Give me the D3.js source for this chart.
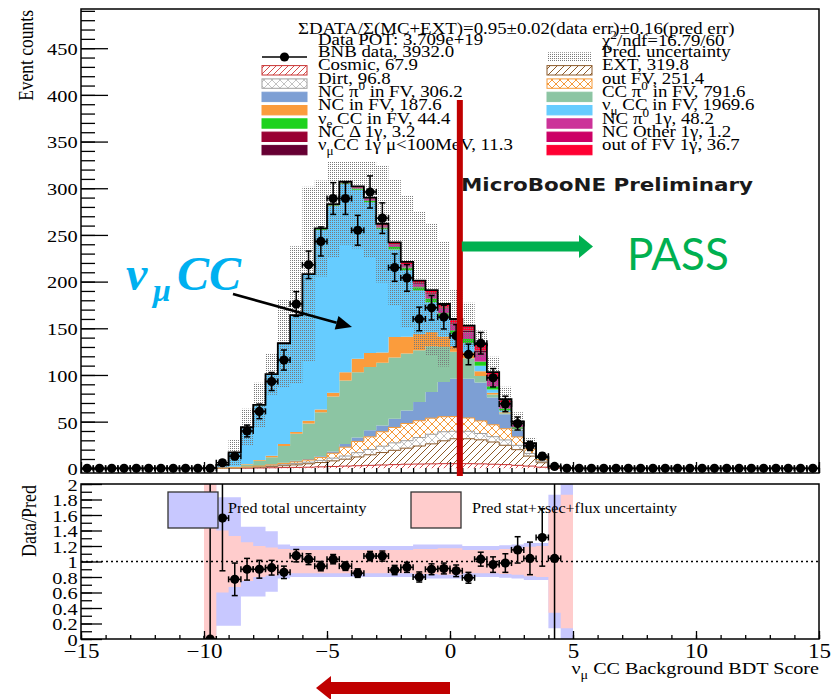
<!DOCTYPE html>
<html>
<head>
<meta charset="utf-8">
<script src="https://cdn.jsdelivr.net/npm/d3@7"></script>
<style>
body { margin: 0; background: #fff; }
svg { display: block; font-family: "Liberation Serif", "Times New Roman", serif; }
</style>
</head>
<body>
<script>
// binning of the BDT score histogram
const xMin = -15, xMax = 15, binW = 0.5, nBins = 60;
const mcStart = -10; // first bin of the MC arrays below (30 bins, -10 .. 5)

// BNB data, all 60 bins
const dataCounts = [
  0,0,0,0,0,0,0,0,0,0,
  0,6,13,40,61,93,116,176,218,243,289,289,255,296,268,215,204,160,172,162,
  142,122,134,97,69,48,24,13,2,0,
  0,0,0,0,0,0,0,0,0,0,0,0,0,0,0,0,0,0,0,0
];

// stacked MC + EXT components, bins -10 .. 5
const cosmic   = [0,0,0,0.2,0.4,0.6,0.8,1,1.2,1.6,2,2.4,2.8,3.2,3.6,4,4.4,4.6,4.8,5,5,5,4.8,4.4,4,3.2,2.4,1.2,0.2,0];
const ext      = [0,0.1,0.33,0.55,0.9,1.3,2,2.7,3.7,4.6,6,7.4,9.4,11.3,13.3,15.3,17.2,19.3,21.4,24.5,26.7,26.7,25.7,23.8,20.7,16.8,10.7,4.8,0.76,0.1];
const dirt     = [0,0,0.11,0.34,0.57,0.8,1.1,1.5,1.7,2.3,2.9,3.4,4.6,5.7,6.8,8,8,9.1,10.3,9.7,8,8,6.8,5.7,5.7,4.6,2.9,1.1,0.2,0];
const outFV    = [0,0.08,0.15,0.3,0.53,0.98,1.35,1.65,2.25,3,5.25,9.45,12,13.5,15.5,16.5,18.45,18,17.25,16.1,15.75,14.25,13.5,12.75,12,9,4.9,2.25,0.38,0.08];
const ncPi0    = [0,0,0.11,0.21,0.2,0.32,0.75,1.15,1.15,1.5,1.85,3.35,4.2,7,6.8,9.2,14,20,28,37.2,40.5,42,41.2,29.3,15.6,6.4,1.6,0.85,0.26,0.12];
const ccPi0    = [0,0.2,0.8,2.4,5.4,8,18,29,38,47,59,68,70,67.8,67,65.6,61,55.4,48.9,37.5,29,22,7,3,1,1,0.5,0.2,0.05,0];
const ncFV     = [0,0.1,0.3,0.6,1,1.5,2,2,3,3,4,9,14.5,15.1,11,22.1,18,17.6,15.3,11,6,6,5,2,1,0.5,0.2,0.1,0.05,0];
const numuCC   = [0.5,3.3,15.2,39.4,58.7,87.1,107.4,124.2,156,192.6,200,201.5,181,161.4,132,93.8,71,46.5,32,21,13,10,6,3.5,2,1,0.6,0.3,0.05,0];
const nueCC    = [0,0,0,0,0.2,0.3,0.4,0.5,0.6,0.7,0.8,0.9,1.2,1.5,2,2.5,3,3.5,4,4,4,4.5,4.5,3.5,2,1.5,0.6,0.3,0.05,0];
const ncPi01g  = [0,0,0,0,0.05,0.05,0.1,0.15,0.2,0.3,0.6,0.8,1.1,1.7,1.9,2.4,2.9,3.4,4.3,4.8,5.8,7,8.9,7.2,4.8,2.9,1.2,0.4,0,0];
const ncDelta1g= [0,0,0,0,0,0,0,0,0,0,0,0.05,0.05,0.1,0.1,0.15,0.2,0.2,0.25,0.3,0.35,0.4,0.5,0.4,0.3,0.15,0.1,0.05,0,0];
const ncOther1g= [0,0,0,0,0,0,0,0,0,0,0,0,0,0.05,0.05,0.05,0.05,0.1,0.1,0.1,0.1,0.15,0.15,0.15,0.1,0.05,0,0,0,0];
const numuCC1g = [0,0,0,0,0,0,0,0.05,0.05,0.1,0.15,0.2,0.25,0.4,0.45,0.55,0.65,0.75,1,1.1,1.3,1.6,2,1.6,1.1,0.65,0.3,0.1,0,0];
const outFV1g  = [0,0,0,0,0.05,0.05,0.1,0.1,0.15,0.3,0.45,0.55,0.9,1.25,1.5,1.85,2.2,2.55,3.35,3.7,4.45,5.35,6.95,5.65,3.7,2.25,1,0.35,0,0];

// relative prediction uncertainty (grey band in the top pad)
const predRelErr = [1,1,0.85,0.45,0.35,0.22,0.35,0.45,0.45,0.2,0.2,0.22,0.22,0.22,0.24,0.28,0.32,0.37,0.37,0.38,0.2,0.16,0.11,0.16,0.18,0.2,0.22,0.3,0.8,1];

// ratio pad, bins -10 .. 5
const ratioVals = [0,1.56,0.77,0.90,0.90,0.92,0.86,1.075,1.03,0.94,1.03,0.94,0.85,1.07,1.07,0.89,0.925,0.80,0.90,0.91,0.88,0.79,1.03,0.96,0.98,1.15,1.04,1.31,1.04,null];
const ratioErr  = [5,0.68,0.21,0.14,0.115,0.095,0.08,0.08,0.07,0.06,0.06,0.055,0.055,0.06,0.065,0.06,0.065,0.065,0.07,0.07,0.075,0.07,0.09,0.1,0.12,0.17,0.21,0.37,5,null];
const bandTotal = [1.5,0.83,0.83,0.45,0.45,0.39,0.22,0.2,0.2,0.2,0.2,0.2,0.2,0.2,0.2,0.2,0.2,0.22,0.22,0.22,0.22,0.2,0.2,0.2,0.21,0.22,0.24,0.24,0.86,1.2];
const bandStat  = [1.2,0.4,0.33,0.25,0.2,0.18,0.16,0.15,0.15,0.15,0.15,0.15,0.15,0.15,0.15,0.15,0.15,0.16,0.16,0.17,0.17,0.15,0.15,0.15,0.16,0.17,0.19,0.2,0.66,0.86];

// legend text
const headerLine = "ΣDATA/Σ(MC+EXT)=0.95±0.02(data err)±0.16(pred err)";
const potLine = "Data POT: 3.709e+19";
const chi2Line = "χ^{2}/ndf=16.79/60";
const legendLeft = ["BNB data, 3932.0","Cosmic, 67.9","Dirt, 96.8","NC π^{0} in FV, 306.2","NC in FV, 187.6","ν_{e} CC in FV, 44.4","NC Δ 1γ, 3.2","ν_{μ}CC 1γ μ<100MeV, 11.3"];
const legendRight = ["Pred. uncertainty","EXT, 319.8","out FV, 251.4","CC π^{0} in FV, 791.6","ν_{μ} CC in FV, 1969.6","NC π^{0} 1γ, 48.2","NC Other 1γ, 1.2","out of FV 1γ, 36.7"];
const bdtCut = 0.4;

const comps = {cosmic, ext, dirt, outFV, ncPi0, ccPi0, ncFV, numuCC, nueCC, ncPi01g, ncDelta1g, ncOther1g, numuCC1g, outFV1g};
const compKeys = Object.keys(comps);
const legendLeftKeys = ["data","cosmic","dirt","ncPi0","ncFV","nueCC","ncDelta1g","numuCC1g"];
const legendRightKeys = ["band","ext","outFV","ccPi0","numuCC","ncPi01g","ncOther1g","outFV1g"];

const fills = {
  cosmic: "url(#hCosmic)", ext: "url(#hExt)", dirt: "url(#hDirt)", outFV: "url(#hOutFV)",
  ncPi0: "#7d9fd4", ccPi0: "#8cc5a3", ncFV: "#fb9c3c", numuCC: "#66ccff", nueCC: "#1ed21e",
  ncPi01g: "#cc3399", ncDelta1g: "#990033", ncOther1g: "#cc0066", numuCC1g: "#660033", outFV1g: "#ff0033",
  band: "url(#dots)"
};
const edgeCol = {cosmic: "#c83232", ext: "#8c5a2a", dirt: "#a0a0a0", outFV: "#f59a3a"};

const W = 833, H = 699, SX = 1.15;
const svg = d3.select("body").append("svg").attr("width", W).attr("height", H);
const defs = svg.append("defs");

function hatch(id, color, size, sw, cross) {
  const p = defs.append("pattern").attr("id", id).attr("patternUnits", "userSpaceOnUse")
    .attr("width", size).attr("height", size);
  p.append("rect").attr("width", size).attr("height", size).attr("fill", "#fff");
  const s = size;
  p.append("path").attr("d", `M0,${s} L${s},0 M-1,1 L1,-1 M${s-1},${s+1} L${s+1},${s-1}`)
    .attr("stroke", color).attr("stroke-width", sw);
  if (cross) p.append("path").attr("d", `M0,0 L${s},${s} M-1,${s-1} L1,${s+1} M${s-1},-1 L${s+1},1`)
    .attr("stroke", color).attr("stroke-width", sw);
}
hatch("hCosmic", "#d03838", 6, 0.9, false);
hatch("hExt", "#8c5a2a", 7, 1, false);
hatch("hDirt", "#b4b4b4", 8, 0.8, true);
hatch("hOutFV", "#f59a3a", 8, 1, true);
const dp = defs.append("pattern").attr("id", "dots").attr("patternUnits", "userSpaceOnUse").attr("width", 2).attr("height", 2);
dp.append("rect").attr("x", 0).attr("y", 0).attr("width", 1).attr("height", 1).attr("fill", "#7a7a7a");

defs.append("clipPath").attr("id", "clipTop").append("rect").attr("x", 81).attr("y", 9).attr("width", 738).attr("height", 464);
defs.append("clipPath").attr("id", "clipRat").append("rect").attr("x", 81).attr("y", 484).attr("width", 738).attr("height", 155);

const x = d3.scaleLinear().domain([xMin, xMax]).range([81, 819]);
const yTop = d3.scaleLinear().domain([-5, 492]).range([473, 9]);
const yRat = d3.scaleLinear().domain([0, 2]).range([639, 484]);

// text with _{} and ^{} handling
function rich(sel, str, fs) {
  const parts = str.split(/([_^]\{[^}]*\})/).filter(s => s.length);
  let off = 0;
  parts.forEach(p => {
    let d = 0, size = fs, t = p;
    if (p[0] === "_") { d = 0.28 * fs; size = 0.7 * fs; t = p.slice(2, -1); }
    else if (p[0] === "^") { d = -0.4 * fs; size = 0.7 * fs; t = p.slice(2, -1); }
    sel.append("tspan").attr("dy", d - off).attr("font-size", size).text(t);
    off = d;
  });
}
function rootText(g, px, py, str, fs, anchor, rot) {
  const t = g.append("text")
    .attr("transform", `translate(${px},${py}) scale(${SX},1)` + (rot ? " rotate(-90)" : ""))
    .attr("font-size", fs).attr("text-anchor", anchor || "start");
  rich(t, str, fs);
  return t;
}

// ---------- top pad ----------
const topPad = svg.append("g");
const plot = topPad.append("g").attr("clip-path", "url(#clipTop)");

const mcLows = d3.range(cosmic.length).map(i => mcStart + i * binW);
const rows = mcLows.map((lo, i) => {
  const r = {lo};
  compKeys.forEach(k => r[k] = comps[k][i]);
  return r;
});
const series = d3.stack().keys(compKeys)(rows);

function stepPts(arr, f0, f1) {
  const out = arr.map((d, i) => ({lo: mcLows[i], y0: f0(d, i), y1: f1(d, i)}));
  const last = out[out.length - 1];
  out.push({lo: last.lo + binW, y0: last.y0, y1: last.y1});
  return out;
}
const stepArea = (ys) => d3.area().curve(d3.curveStepAfter)
  .x(p => x(p.lo)).y0(p => ys(p.y0)).y1(p => ys(p.y1));
const stepLine = (ys) => d3.line().curve(d3.curveStepAfter).x(p => x(p.lo)).y(p => ys(p.y1));

series.forEach(s => {
  const sp = stepPts(s, d => d[0], d => d[1]);
  plot.append("path").attr("d", stepArea(yTop)(sp)).attr("fill", fills[s.key]).attr("stroke", "none");
});
series.forEach(s => {
  if (!edgeCol[s.key]) return;
  const sp = stepPts(s, d => d[0], d => d[1]);
  plot.append("path").attr("d", stepLine(yTop)(sp)).attr("fill", "none")
    .attr("stroke", edgeCol[s.key]).attr("stroke-width", 1);
});

const totals = series[series.length - 1].map(d => d[1]);
const bandPts = stepPts(totals, (t, i) => Math.max(t * (1 - predRelErr[i]), 0), (t, i) => t * (1 + predRelErr[i]));
plot.append("path").attr("d", stepArea(yTop)(bandPts)).attr("fill", "url(#dots)");

// total outline
const outline = [{lo: xMin, y1: 0}].concat(mcLows.map((lo, i) => ({lo, y1: totals[i]})))
  .concat([{lo: mcLows[mcLows.length - 1] + binW, y1: 0}, {lo: xMax, y1: 0}]);
plot.append("path").attr("d", stepLine(yTop)(outline)).attr("fill", "none")
  .attr("stroke", "#000").attr("stroke-width", 1.8);

function drawPoint(g, cx, cy, hx, yHi, yLo) {
  const c = 3;
  g.append("line").attr("x1", cx - hx).attr("x2", cx + hx).attr("y1", cy).attr("y2", cy);
  g.append("line").attr("x1", cx - hx).attr("x2", cx - hx).attr("y1", cy - c).attr("y2", cy + c);
  g.append("line").attr("x1", cx + hx).attr("x2", cx + hx).attr("y1", cy - c).attr("y2", cy + c);
  if (yHi != null) {
    g.append("line").attr("x1", cx).attr("x2", cx).attr("y1", yHi).attr("y2", yLo);
    g.append("line").attr("x1", cx - c).attr("x2", cx + c).attr("y1", yHi).attr("y2", yHi);
    g.append("line").attr("x1", cx - c).attr("x2", cx + c).attr("y1", yLo).attr("y2", yLo);
  }
  g.append("circle").attr("cx", cx).attr("cy", cy).attr("r", 4.6).attr("fill", "#000").attr("stroke", "none");
}
const dataG = plot.append("g").attr("stroke", "#000").attr("stroke-width", 1.5);
dataCounts.forEach((n, i) => {
  const c = xMin + (i + 0.5) * binW;
  const e = Math.sqrt(n);
  drawPoint(dataG, x(c), yTop(n), x(binW / 2) - x(0), n > 0 ? yTop(n + e) : null, n > 0 ? yTop(n - e) : null);
});

// frame and axes
topPad.append("rect").attr("x", 81).attr("y", 9).attr("width", 738).attr("height", 464)
  .attr("fill", "none").attr("stroke", "#000").attr("stroke-width", 1.5);

function styleAxis(g) {
  g.attr("font-family", null).attr("font-size", null);
  g.select(".domain").remove();
  g.selectAll("line").attr("stroke", "#000").attr("stroke-width", 1.3);
}
topPad.append("g").attr("transform", "translate(81,0)")
  .call(d3.axisLeft(yTop).tickValues(d3.range(0, 491, 10)).tickSizeInner(-14).tickSizeOuter(0).tickFormat(""))
  .call(styleAxis);
topPad.append("g").attr("transform", "translate(81,0)")
  .call(d3.axisLeft(yTop).tickValues(d3.range(0, 451, 50)).tickSizeInner(-27).tickSizeOuter(0).tickPadding(3).tickFormat(d3.format("d")))
  .call(styleAxis)
  .call(g => g.selectAll("text").attr("font-size", 17.7).attr("dy", "0.36em").attr("transform", `scale(${SX},1)`));
topPad.append("g").attr("transform", "translate(0,473)")
  .call(d3.axisBottom(x).tickValues(d3.range(xMin, xMax + 0.01, binW)).tickSizeInner(-5).tickSizeOuter(0).tickFormat(""))
  .call(styleAxis);
topPad.append("g").attr("transform", "translate(0,473)")
  .call(d3.axisBottom(x).tickValues(d3.range(xMin, xMax + 0.01, 5)).tickSizeInner(-11).tickSizeOuter(0).tickFormat(""))
  .call(styleAxis);
rootText(topPad, 33, 10, "Event counts", 17.5, "end", true);

// ---------- legend ----------
const leg = svg.append("g");
leg.append("rect").attr("x", 252).attr("y", 13).attr("width", 556).attr("height", 148).attr("fill", "#fff");
const legFs = 16.4;
rootText(leg, 298, 34, headerLine, legFs);
rootText(leg, 318, 45, potLine, legFs);
rootText(leg, 602, 46, chi2Line, legFs);
function legendRow(bx, tx, yc, key, label) {
  if (key === "data") {
    leg.append("line").attr("x1", bx).attr("x2", bx + 45).attr("y1", yc).attr("y2", yc).attr("stroke", "#000").attr("stroke-width", 1.5);
    leg.append("circle").attr("cx", bx + 22.5).attr("cy", yc).attr("r", 4.6).attr("fill", "#000");
  } else {
    leg.append("rect").attr("x", bx).attr("y", yc - 4.7).attr("width", 45).attr("height", 9.4)
      .attr("fill", key === "band" ? "#fff" : "none");
    leg.append("rect").attr("x", bx).attr("y", yc - 4.7).attr("width", 45).attr("height", 9.4)
      .attr("fill", fills[key]).attr("stroke", key === "band" ? "none" : (edgeCol[key] || fills[key])).attr("stroke-width", 1);
  }
  rootText(leg, tx, yc, label, legFs);
}
legendLeft.forEach((lab, i) => legendRow(262, 318, 57 + i * 13.3, legendLeftKeys[i], lab));
legendRight.forEach((lab, i) => legendRow(547, 602, 57 + i * 13.3, legendRightKeys[i], lab));

// ---------- ratio pad ----------
const rat = svg.append("g");
const rplot = rat.append("g").attr("clip-path", "url(#clipRat)");
const bT = stepPts(bandTotal, e => 1 - e, e => 1 + e);
const bS = stepPts(bandStat, e => 1 - e, e => 1 + e);
rplot.append("path").attr("d", stepArea(yRat)(bT)).attr("fill", "#c8c8ff");
rplot.append("path").attr("d", stepArea(yRat)(bS)).attr("fill", "#ffcccc");
rplot.append("line").attr("x1", 81).attr("x2", 819).attr("y1", yRat(1)).attr("y2", yRat(1))
  .attr("stroke", "#000").attr("stroke-width", 1.3).attr("stroke-dasharray", "2,3");
const rpts = rplot.append("g").attr("stroke", "#000").attr("stroke-width", 1.5);
ratioVals.forEach((r, i) => {
  if (r == null) return;
  const c = mcLows[i] + binW / 2;
  drawPoint(rpts, x(c), yRat(r), x(binW / 2) - x(0), yRat(r + ratioErr[i]), yRat(Math.max(r - ratioErr[i], -1)));
});

// ratio legend
rat.append("rect").attr("x", 168).attr("y", 492).attr("width", 50).attr("height", 36)
  .attr("fill", "#c8c8ff").attr("stroke", "#333").attr("stroke-width", 1.3);
rootText(rat, 228, 513, "Pred total uncertainty", 14);
rat.append("rect").attr("x", 411).attr("y", 492).attr("width", 50).attr("height", 36)
  .attr("fill", "#ffcccc").attr("stroke", "#333").attr("stroke-width", 1.3);
rootText(rat, 472, 513, "Pred stat+xsec+flux uncertainty", 14);

rat.append("rect").attr("x", 81).attr("y", 484).attr("width", 738).attr("height", 155)
  .attr("fill", "none").attr("stroke", "#000").attr("stroke-width", 1.5);
rat.append("g").attr("transform", "translate(81,0)")
  .call(d3.axisLeft(yRat).tickValues(d3.range(0, 2.001, 0.1)).tickSizeInner(-11).tickSizeOuter(0).tickFormat(""))
  .call(styleAxis);
rat.append("g").attr("transform", "translate(81,0)")
  .call(d3.axisLeft(yRat).tickValues(d3.range(0, 2.001, 0.2)).tickSizeInner(-21).tickSizeOuter(0).tickPadding(3).tickFormat(d3.format(".1~f")))
  .call(styleAxis)
  .call(g => g.selectAll("text").attr("font-size", 17.7).attr("dy", "0.36em").attr("transform", `scale(${SX},1)`));
rat.append("g").attr("transform", "translate(0,639)")
  .call(d3.axisBottom(x).tickValues(d3.range(xMin, xMax + 0.01, 1)).tickSizeInner(-4).tickSizeOuter(0).tickFormat(""))
  .call(styleAxis);
rat.append("g").attr("transform", "translate(0,639)")
  .call(d3.axisBottom(x).tickValues(d3.range(xMin, xMax + 0.01, 5)).tickSizeInner(-8).tickSizeOuter(0).tickPadding(4).tickFormat(d3.format("d")))
  .call(styleAxis)
  .call(g => g.selectAll("text").attr("font-size", 20).attr("dy", "0.75em").attr("transform", `scale(${SX},1)`));
rootText(rat, 819, 674, "ν_{μ} CC Background BDT Score", 17.5, "end");
rootText(rat, 36, 485, "Data/Pred", 18, "end", true);

// ---------- annotations ----------
const ann = svg.append("g");
ann.append("text").attr("x", 0).attr("y", 0)
  .style("font-family", "'DejaVu Sans', sans-serif").style("font-weight", "bold")
  .attr("font-size", 18.5).attr("fill", "#1a1a1a")
  .attr("transform", `translate(461,191) scale(1.16,1)`)
  .text("MicroBooNE Preliminary");

const cutX = x(bdtCut);
ann.append("rect").attr("x", cutX - 3).attr("y", 100).attr("width", 6).attr("height", 376).attr("fill", "#c00000");

// pass arrow
const green = "#00b050";
ann.append("rect").attr("x", cutX + 2).attr("y", 241.5).attr("width", 579 - cutX - 2).attr("height", 10).attr("fill", green);
ann.append("path").attr("d", "M579,235 L593,246.5 L579,258 Z").attr("fill", green);
ann.append("text").attr("x", 627).attr("y", 270)
  .style("font-family", "Lato, 'Open Sans', sans-serif")
  .attr("font-size", 44).attr("fill", green).text("PASS");

// fail arrow below the axis
ann.append("rect").attr("x", 330).attr("y", 682).attr("width", 120).attr("height", 12).attr("fill", "#c00000");
ann.append("path").attr("d", "M316,688 L331,676 L331,700 Z").attr("fill", "#c00000");

// numu CC label and pointer
const lab = ann.append("text").attr("y", 290)
  .style("font-family", "'Liberation Serif', serif").style("font-weight", "bold").style("font-style", "italic")
  .attr("fill", "#00b0f0");
lab.append("tspan").attr("x", 126).attr("font-size", 48).text("ν");
lab.append("tspan").attr("x", 153).attr("font-size", 32).attr("dy", 11).text("μ");
lab.append("tspan").attr("x", 177).attr("font-size", 48).attr("dy", -11).text("CC");
const a0 = [233, 294], a1 = [352, 327];
const alen = Math.hypot(a1[0] - a0[0], a1[1] - a0[1]);
const ux = (a1[0] - a0[0]) / alen, uy = (a1[1] - a0[1]) / alen;
const hbx = a1[0] - 16 * ux, hby = a1[1] - 16 * uy;
ann.append("line").attr("x1", a0[0]).attr("y1", a0[1]).attr("x2", hbx).attr("y2", hby)
  .attr("stroke", "#000").attr("stroke-width", 2.6);
ann.append("path").attr("d", `M${a1[0]},${a1[1]} L${hbx - 7 * uy},${hby + 7 * ux} L${hbx + 7 * uy},${hby - 7 * ux} Z`).attr("fill", "#000");
</script>
</body>
</html>
